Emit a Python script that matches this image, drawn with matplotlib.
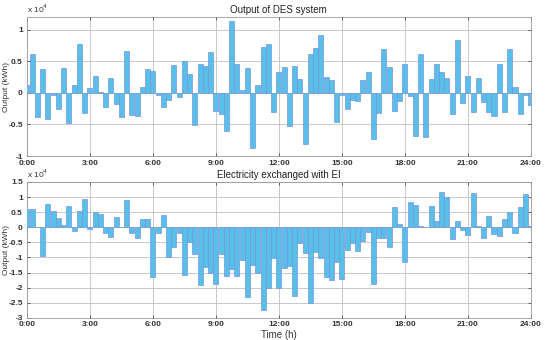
import numpy as np
import matplotlib.pyplot as plt

plt.rcParams['font.family'] = ['Liberation Sans', 'DejaVu Sans']

# values in 10^4 kWh, one bar per 15 min (0:00 .. 24:00)
des_output = [0.13, 0.62, -0.38, 0.37, -0.41, -0.03, -0.25, 0.40, -0.47, 0.13, 0.77, -0.32, 0.07,
              0.26, 0.02, -0.23, 0.23, -0.18, -0.38, 0.67, -0.35, -0.37, 0.10, 0.37, 0.34,
              -0.03, -0.23, -0.11, 0.44, -0.07, 0.50, 0.30, -0.51, 0.45, 0.42, 0.65, -0.29,
              -0.33, -0.61, 1.13, 0.45, 0.05, 0.40, -0.87, 0.12, 0.73, 0.77, -0.31, 0.33,
              0.41, -0.53, 0.43, 0.22, -0.81, 0.62, 0.71, 0.92, 0.25, 0.21, -0.46, -0.03,
              -0.25, -0.12, -0.13, 0.20, 0.33, -0.73, -0.32, 0.69, 0.41, -0.28, -0.13, 0.46,
              -0.05, -0.69, 0.61, -0.70, 0.22, 0.45, 0.33, 0.24, -0.33, 0.83, -0.16, 0.26,
              -0.31, 0.24, -0.15, -0.31, -0.36, 0.45, -0.31, 0.70, 0.10, -0.33, -0.04, -0.19]

ei_exchange = [0.60, 0.61, 0.02, -0.96, 0.78, 0.54, 0.30, 0.08, 0.71, -0.12, 0.55, 0.94, -0.05,
               0.50, 0.43, -0.18, -0.31, 0.33, 0.02, 0.91, -0.20, -0.36, 0.27, 0.27, -1.66,
               -0.20, 0.40, -1.00, -0.65, -0.20, -1.57, -0.50, -0.90, -1.90, -1.30, -1.53, -1.87,
               -0.87, -1.62, -1.37, -1.62, -1.09, -2.31, -1.26, -1.50, -2.75, -2.00, -1.03, -2.00,
               -1.34, -1.29, -2.28, -0.53, -0.84, -2.50, -0.81, -1.03, -1.64, -1.75, -1.14, -1.72,
               -0.76, -0.51, -0.80, -0.45, -0.16, -1.87, -0.37, -0.37, -0.64, 0.66, 0.10, -1.14,
               0.83, 0.72, 0.05, 0.02, 0.69, 0.22, 1.17, 0.99, -0.39, 0.21, -0.08, -0.26,
               1.13, 0.04, -0.34, 0.36, -0.22, -0.29, 0.27, 0.49, -0.18, 0.67, 1.10, 0.05]

hours = np.arange(len(des_output)) * 0.25
tick_hours = np.arange(0, 25, 3)
tick_labels = ['%d:00' % h for h in tick_hours]

fig = plt.figure(figsize=(5.5, 3.4), dpi=100)
ax1 = fig.add_axes([0.049, 0.541, 0.916, 0.409])
ax2 = fig.add_axes([0.049, 0.065, 0.916, 0.400])

panels = [(ax1, des_output, 'Output of DES system', (-1, 1.2), np.arange(-1, 1.01, 0.5)),
          (ax2, ei_exchange, 'Electricity exchanged with EI', (-3, 1.5), np.arange(-3, 1.51, 0.5))]

for ax, vals, title, ylim, yt in panels:
    ax.bar(hours, vals, width=0.24, color='#58bfe8', edgecolor='#7694de', linewidth=0.5, zorder=3)
    ax.set_xlim(0, 24)
    ax.set_ylim(*ylim)
    ax.set_xticks(tick_hours)
    ax.set_xticklabels(tick_labels)
    ax.set_yticks(yt)
    ax.set_yticklabels(['%g' % v for v in yt])
    ax.grid(True, color='#c8c8c8', linewidth=0.7, zorder=0)
    ax.tick_params(direction='in', top=True, right=True, length=2, width=0.5,
                   labelsize=6, colors='#333333')
    ax.tick_params(axis='x', pad=2.5)
    ax.tick_params(axis='y', pad=3)
    for lab in ax.get_xticklabels() + ax.get_yticklabels():
        lab.set_fontweight('bold')
    for s in ax.spines.values():
        s.set_color('#999999')
        s.set_linewidth(0.6)
    ax.set_title(title, fontsize=7, pad=3, color='#222222')
    ax.set_ylabel('Output (kWh)', fontsize=6, color='#333333')
    ax.yaxis.set_label_coords(-0.034, 0.5)
    ax.text(0.0, 1.015, r'x 10$^4$', transform=ax.transAxes, fontsize=6, color='#333333',
            va='bottom', ha='left')

ax2.set_xlabel('Time (h)', fontsize=7, labelpad=1, color='#333333')

fig.savefig('out.png', dpi=100)
